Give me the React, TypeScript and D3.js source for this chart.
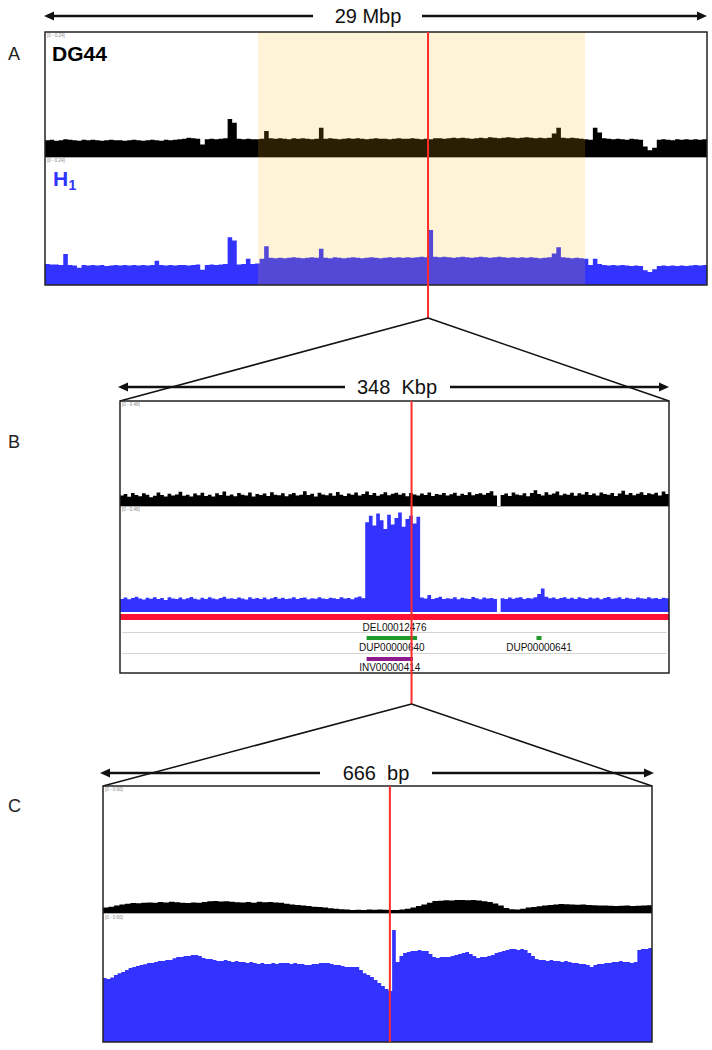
import React from "react";
import * as d3 from "d3";

// ---------------- DATA ----------------
// Panel A: 29 Mbp, bins of 0.2 Mbp, coverage x1000, range [0 - 0.24]
const A_SPAN = 29;
const A_MAX = 240;
const A_RANGE_LABEL = "[0 - 0.24]";
const A_HIGHLIGHT = [9.33, 23.66];
const A_BREAK = 16.78;
const A_BLACK = [
  32, 33, 31, 32, 34, 33, 32, 31, 33, 32,
  33, 32, 31, 32, 33, 32, 32, 31, 32, 33,
  32, 31, 32, 33, 32, 31, 33, 32, 33, 34,
  35, 37, 36, 35, 24, 34, 35, 34, 35, 36,
  73, 66, 35, 34, 35, 34, 34, 35, 50, 36,
  35, 36, 35, 34, 36, 35, 36, 35, 34, 35,
  56, 35, 36, 35, 34, 35, 36, 35, 36, 35,
  34, 35, 36, 35, 35, 34, 35, 36, 35, 35,
  36, 35, 34, 35, 34, 36, 36, 35, 36, 37,
  36, 37, 36, 35, 36, 37, 36, 38, 37, 36,
  37, 38, 37, 36, 37, 38, 37, 36, 37, 36,
  37, 45, 56, 37, 36, 37, 36, 35, 34, 33,
  56, 47, 36, 35, 34, 35, 34, 33, 35, 34,
  33, 20, 13, 18, 33, 34, 33, 32, 34, 33,
  34, 33, 34, 33, 34,
];
const A_BLUE = [
  40, 39, 39, 38, 59, 38, 37, 33, 38, 37,
  38, 37, 38, 36, 37, 38, 37, 38, 37, 38,
  37, 38, 37, 38, 46, 38, 37, 38, 37, 38,
  38, 37, 38, 39, 29, 38, 39, 38, 39, 40,
  91, 85, 39, 40, 50, 40, 41, 50, 74, 52,
  51, 52, 51, 52, 53, 52, 51, 52, 53, 52,
  69, 52, 51, 53, 52, 51, 52, 53, 52, 51,
  52, 53, 52, 51, 52, 53, 52, 53, 52, 53,
  52, 53, 54, 53, 105, 54, 53, 54, 53, 52,
  53, 54, 53, 52, 53, 54, 53, 52, 53, 54,
  53, 52, 53, 52, 53, 52, 53, 52, 51, 52,
  53, 60, 72, 53, 52, 51, 52, 51, 50, 38,
  50, 40, 38, 37, 38, 37, 38, 37, 36, 37,
  36, 28, 25, 30, 36, 37, 36, 37, 36, 37,
  36, 37, 38, 37, 38,
];

// Panel B: 348 Kbp, 150 bins, coverage x1000, range [0 - 0.48]
const B_SPAN = 348;
const B_MAX = 480;
const B_RANGE_LABEL = "[0 - 0.48]";
const B_BREAK = 184.8;
const B_BLACK = [
  48, 55, 42, 60, 50, 45, 58, 52, 40, 47,
  62, 50, 44, 56, 48, 53, 65, 47, 51, 44,
  57, 49, 61, 46, 52, 43, 58, 50, 66, 47,
  53, 45, 59, 51, 48, 62, 44, 55, 50, 57,
  46, 63, 52, 49, 58, 45, 54, 60, 48, 52,
  67, 50, 56, 44, 61, 53, 49, 58, 47, 64,
  51, 46, 57, 52, 62, 48, 55, 66, 50, 59,
  47, 54, 63, 49, 56, 61, 52, 58, 45, 60,
  53, 48, 57, 50, 62, 46, 55, 52, 59, 48,
  54, 61, 47, 56, 50, 63, 49, 55, 58, 52,
  60, 67, 48, 0, 50, 57, 46, 62, 53, 49,
  58, 45, 60, 72, 55, 48, 63, 51, 57, 66,
  49, 56, 52, 61, 47, 58, 53, 64, 50, 57,
  48, 62, 55, 51, 59, 46, 57, 70, 52, 60,
  49, 56, 63, 50, 58, 54, 61, 48, 66, 55,
];
const B_BLUE = [
  60, 66, 58, 64, 70, 62, 57, 65, 61, 68,
  59, 64, 55, 67, 62, 60, 66, 58, 63, 69,
  61, 57, 65, 60, 67, 62, 58, 64, 70, 61,
  63, 59, 66, 62, 57, 68, 61, 64, 60, 66,
  58, 63, 69, 61, 65, 59, 62, 67, 60, 64,
  66, 58, 63, 61, 68, 62, 59, 65, 63, 60,
  67, 62, 64, 58, 66, 71, 63, 410, 440, 395,
  450, 420, 380, 445, 400, 430, 455, 390, 425, 440,
  405, 435, 66, 62, 78, 60, 64, 70, 59, 63,
  61, 67, 58, 65, 62, 60, 69, 63, 58, 66,
  62, 64, 60, 0, 63, 59, 66, 61, 65, 68,
  60, 64, 62, 67, 82, 108, 70, 63, 66, 60,
  64, 68, 61, 65, 59, 67, 63, 60, 66, 62,
  65, 58, 64, 69, 61, 63, 67, 60, 65, 62,
  59, 66, 63, 61, 67, 62, 64, 60, 65, 63,
];
const B_FEATURE_NAMES = ["DEL00012476", "DUP00000640", "DUP00000641", "INV00000414"];
const B_FEATURE_STARTS = [0, 156.3, 264.0, 156.3];
const B_FEATURE_ENDS = [348, 188.3, 267.2, 185.7];
const B_FEATURE_ROWS = [0, 1, 1, 2];
const B_FEATURE_COLORS = ["#FF1233", "#1F9A2A", "#1F9A2A", "#8E1A8E"];

// Panel C: 666 bp, coverage x1000, range [0 - 0.60]
const C_SPAN = 666;
const C_MAX = 600;
const C_RANGE_LABEL = "[0 - 0.60]";
const C_BREAK = 348;
const C_BLACK = [
  26, 30, 36, 40, 44, 47, 46, 48, 50, 49,
  52, 50, 53, 51, 49, 47, 50, 48, 52, 55,
  57, 54, 56, 53, 51, 50, 52, 49, 53, 51,
  52, 50, 48, 44, 40, 38, 36, 33, 30, 28,
  26, 23, 20, 18, 16, 14, 15, 14, 16, 15,
  16, 15, 14, 14, 16, 20, 26, 33, 40, 48,
  57, 58, 60, 59, 61, 62, 60, 61, 59, 56,
  52, 45, 35, 24, 18, 16, 20, 26, 28, 32,
  36, 38, 40, 42, 41, 40, 39, 40, 38, 37,
  36, 35, 34, 33, 34, 35, 33, 34, 35, 37,
];
const C_BLUE = [
  298, 293, 300, 312, 320, 326, 335, 344, 349, 353,
  358, 362, 367, 367, 372, 377, 377, 381, 381, 390,
  395, 395, 400, 400, 405, 405, 400, 391, 386, 386,
  381, 377, 377, 381, 377, 372, 377, 372, 372, 367,
  372, 367, 363, 367, 363, 363, 367, 363, 367, 367,
  367, 363, 367, 363, 363, 358, 358, 363, 363, 367,
  367, 367, 363, 358, 358, 353, 349, 349, 349, 349,
  335, 320, 312, 302, 288, 274, 260, 246, 237, 521,
  372, 400, 414, 419, 423, 423, 428, 423, 423, 409,
  395, 391, 395, 395, 395, 400, 405, 409, 414, 419,
  409, 400, 391, 395, 395, 400, 405, 414, 419, 423,
  428, 432, 432, 428, 432, 428, 414, 400, 386, 381,
  381, 377, 381, 377, 377, 372, 377, 372, 367, 367,
  363, 363, 358, 349, 358, 363, 363, 367, 367, 372,
  372, 377, 372, 372, 367, 372, 428, 432, 432, 437,
];

// ---------------- HELPERS ----------------
const FONT = "'Liberation Sans', Arial, Helvetica, sans-serif";
const BLUE = "#3333FF";
const RED = "#FF2B2B";

function trackPath(values: number[], span: number, x0: number, x1: number, yBottom: number, yTop: number, maxVal: number) {
  const n = values.length;
  const bin = span / n;
  const x = d3.scaleLinear().domain([0, span]).range([x0, x1]);
  const y = d3.scaleLinear().domain([0, maxVal]).range([yBottom, yTop]);
  const pts: [number, number][] = values.map((v, i) => [i * bin, v]);
  pts.push([span, values[n - 1]]);
  const area = d3
    .area<[number, number]>()
    .x((d) => x(d[0]))
    .y0(yBottom)
    .y1((d) => y(d[1]))
    .curve(d3.curveStepAfter);
  return area(pts) || "";
}

function SpanArrow({ x0, x1, y, label, cx, gap0, gap1, baseline }: any) {
  const h = 10;
  const w = 4.5;
  return (
    <g>
      <line x1={x0 + 4} x2={gap0} y1={y} y2={y} stroke="#111" strokeWidth={2.6} />
      <line x1={gap1} x2={x1 - 4} y1={y} y2={y} stroke="#111" strokeWidth={2.6} />
      <path d={`M${x0},${y} L${x0 + h},${y - w} L${x0 + h},${y + w} Z`} fill="#111" />
      <path d={`M${x1},${y} L${x1 - h},${y - w} L${x1 - h},${y + w} Z`} fill="#111" />
      <text x={cx} y={baseline} textAnchor="middle" fontFamily={FONT} fontSize={20} fill="#111" style={{ whiteSpace: "pre" }}>
        {label}
      </text>
    </g>
  );
}

function RangeLabel({ x, y, text }: any) {
  return (
    <text x={x} y={y} fontFamily={FONT} fontSize={4.5} fill="#888">
      {text}
    </text>
  );
}

export default function App() {
  // Panel A geometry
  const ax0 = 45, ax1 = 707, aTop = 32, aMid = 157, aBot = 285;
  const axs = d3.scaleLinear().domain([0, A_SPAN]).range([ax0, ax1]);
  const aBreakX = axs(A_BREAK);

  // Panel B geometry
  const bx0 = 120, bx1 = 669, bTop = 401, bMid = 506, bBlueBot = 612, bBot = 673;
  const bxs = d3.scaleLinear().domain([0, B_SPAN]).range([bx0, bx1]);
  const bBreakX = bxs(B_BREAK);
  const rowBarY = [614, 636, 657];
  const rowBarH = [6, 4, 4];
  const rowLabelY = [631, 651, 671];

  // Panel C geometry
  const cx0 = 103, cx1 = 652, cTop = 786, cMid = 913, cBot = 1042;
  const cxs = d3.scaleLinear().domain([0, C_SPAN]).range([cx0, cx1]);
  const cBreakX = cxs(C_BREAK);

  const apexAB = 318;
  const apexBC = 704;

  return (
    <svg
      width={712}
      height={1050}
      style={{ position: "absolute", left: 0, top: 0, background: "#fff" }}
      xmlns="http://www.w3.org/2000/svg"
    >
      <rect x={0} y={0} width={712} height={1050} fill="#fff" />

      {/* ---------- Panel A ---------- */}
      <SpanArrow x0={44} x1={707} y={16} label="29 Mbp" cx={368} gap0={313} gap1={422} baseline={23} />
      <text x={8} y={60} fontFamily={FONT} fontSize={18} fill="#222">A</text>
      <path d={trackPath(A_BLACK, A_SPAN, ax0, ax1, aMid, aTop, A_MAX)} fill="#000" />
      <path d={trackPath(A_BLUE, A_SPAN, ax0, ax1, aBot, aMid + 2, A_MAX)} fill={BLUE} />
      <line x1={ax0} x2={ax1} y1={aMid + 0.5} y2={aMid + 0.5} stroke="#aaa" strokeWidth={1} />
      <rect
        x={axs(A_HIGHLIGHT[0])}
        y={aTop}
        width={axs(A_HIGHLIGHT[1]) - axs(A_HIGHLIGHT[0])}
        height={aBot - aTop}
        fill="rgb(250,185,20)"
        fillOpacity={0.17}
      />
      <RangeLabel x={ax0 + 2} y={aTop + 5} text={A_RANGE_LABEL} />
      <RangeLabel x={ax0 + 2} y={aMid + 5} text={A_RANGE_LABEL} />
      <text x={52} y={61} fontFamily={FONT} fontSize={21} fontWeight="bold" fill="#000">DG44</text>
      <text x={53} y={186} fontFamily={FONT} fontSize={21} fontWeight="bold" fill={BLUE}>H</text>
      <text x={68.5} y={190} fontFamily={FONT} fontSize={14} fontWeight="bold" fill={BLUE}>1</text>
      <rect x={ax0} y={aTop} width={ax1 - ax0} height={aBot - aTop} fill="none" stroke="#222" strokeWidth={1.5} />
      <line x1={aBreakX} x2={aBreakX} y1={aTop} y2={apexAB} stroke={RED} strokeWidth={2} />

      {/* zoom triangle A -> B */}
      <line x1={aBreakX} y1={apexAB} x2={bx0} y2={bTop} stroke="#111" strokeWidth={1.5} />
      <line x1={aBreakX} y1={apexAB} x2={bx1} y2={bTop} stroke="#111" strokeWidth={1.5} />

      {/* ---------- Panel B ---------- */}
      <SpanArrow x0={118} x1={669} y={387} label="348  Kbp" cx={397} gap0={345} gap1={450} baseline={394} />
      <text x={8} y={448} fontFamily={FONT} fontSize={18} fill="#222">B</text>
      <path d={trackPath(B_BLACK, B_SPAN, bx0, bx1, bMid, bTop, B_MAX)} fill="#000" />
      <path d={trackPath(B_BLUE, B_SPAN, bx0, bx1, bBlueBot, bMid + 1, B_MAX)} fill={BLUE} />
      <line x1={bx0} x2={bx1} y1={bMid + 0.5} y2={bMid + 0.5} stroke="#aaa" strokeWidth={1} />
      <RangeLabel x={bx0 + 2} y={bTop + 5} text={B_RANGE_LABEL} />
      <RangeLabel x={bx0 + 2} y={bMid + 5} text={B_RANGE_LABEL} />
      <line x1={bx0 + 2} x2={bx1 - 2} y1={632.5} y2={632.5} stroke="#d4d4d4" strokeWidth={1} />
      <line x1={bx0 + 2} x2={bx1 - 2} y1={653.5} y2={653.5} stroke="#d4d4d4" strokeWidth={1} />
      {B_FEATURE_NAMES.map((name, i) => {
        const r = B_FEATURE_ROWS[i];
        const xs = bxs(B_FEATURE_STARTS[i]);
        const xe = bxs(B_FEATURE_ENDS[i]);
        return (
          <g key={name}>
            <rect x={xs} y={rowBarY[r]} width={xe - xs} height={rowBarH[r]} fill={B_FEATURE_COLORS[i]} />
            <text x={(xs + xe) / 2} y={rowLabelY[r]} textAnchor="middle" fontFamily={FONT} fontSize={10} fill="#111">
              {name}
            </text>
          </g>
        );
      })}
      <rect x={bx0} y={bTop} width={bx1 - bx0} height={bBot - bTop} fill="none" stroke="#222" strokeWidth={1.5} />
      <line x1={bBreakX} x2={bBreakX} y1={bTop} y2={apexBC} stroke={RED} strokeWidth={2} />

      {/* zoom triangle B -> C */}
      <line x1={bBreakX} y1={apexBC} x2={cx0} y2={cTop} stroke="#111" strokeWidth={1.5} />
      <line x1={bBreakX} y1={apexBC} x2={cx1} y2={cTop} stroke="#111" strokeWidth={1.5} />

      {/* ---------- Panel C ---------- */}
      <SpanArrow x0={100} x1={654} y={773} label="666  bp" cx={376} gap0={320} gap1={432} baseline={780} />
      <text x={8} y={812} fontFamily={FONT} fontSize={18} fill="#222">C</text>
      <path d={trackPath(C_BLACK, C_SPAN, cx0, cx1, cMid, cTop, C_MAX)} fill="#000" />
      <path d={trackPath(C_BLUE, C_SPAN, cx0, cx1, cBot, cMid, C_MAX)} fill={BLUE} />
      <line x1={cx0} x2={cx1} y1={cMid + 0.5} y2={cMid + 0.5} stroke="#aaa" strokeWidth={1} />
      <RangeLabel x={cx0 + 2} y={cTop + 5} text={C_RANGE_LABEL} />
      <RangeLabel x={cx0 + 2} y={cMid + 6} text={C_RANGE_LABEL} />
      <rect x={cx0} y={cTop} width={cx1 - cx0} height={cBot - cTop} fill="none" stroke="#222" strokeWidth={1.5} />
      <line x1={cBreakX} x2={cBreakX} y1={cTop} y2={cBot} stroke={RED} strokeWidth={2} />
    </svg>
  );
}
